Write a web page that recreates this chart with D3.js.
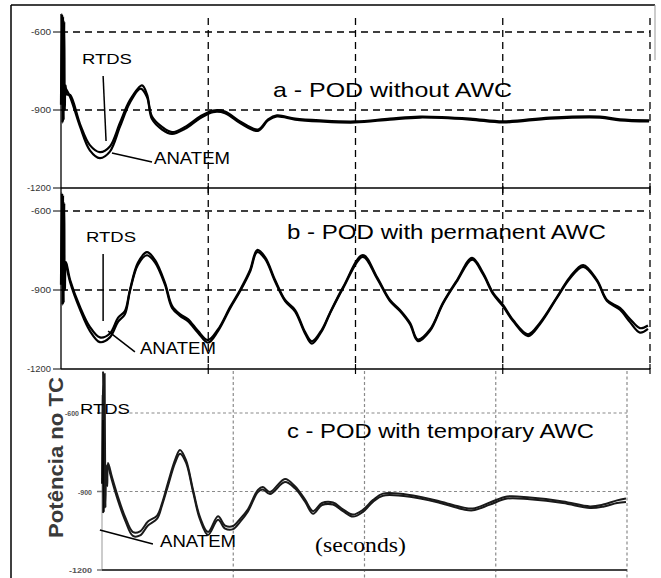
<!DOCTYPE html>
<html><head><meta charset="utf-8">
<script src="https://cdn.jsdelivr.net/npm/d3@7"></script>
<style>html,body{margin:0;padding:0;background:#fff;}svg{display:block;}</style>
</head><body>
<script>
// ---------- DATA ----------
const timeDomain = [0, 20];
const gridTimes = [5, 10, 15, 20];
const yTicks = [-600, -900, -1200];
const yTickLabels = ["-600", "-900", "-1200"];
const gridValues = [-600, -900];
const titles = ["a - POD without  AWC", "b - POD with permanent AWC", "c - POD with temporary AWC"];
const seriesNames = ["RTDS", "ANATEM"];
const yAxisTitle = "Potência no TC";
const xAxisTitle = "(seconds)";

// panel a (t in s, value)
const rtdsA = [[0,-880],[0.03,-530],[0.05,-950],[0.07,-540],[0.09,-940],[0.11,-560],[0.13,-900],[0.15,-805],[0.2,-840],[0.31,-842],[0.65,-955],[0.98,-1035],[1.32,-1062],[1.66,-1040],[2.0,-950],[2.34,-862],[2.75,-805],[2.92,-840],[3.09,-925],[3.43,-965],[3.77,-985],[4.21,-965],[4.72,-925],[5.16,-902],[5.57,-906],[6.08,-944],[6.69,-975],[7.03,-936],[7.33,-921],[7.95,-933],[8.79,-940],[9.98,-944],[11.17,-933],[12.19,-925],[13.89,-933],[15.01,-944],[16.6,-929],[18.3,-925],[18.98,-936],[19.97,-940]];
const anatemA = [[0.15,-815],[0.31,-850],[0.65,-965],[0.98,-1055],[1.32,-1085],[1.66,-1060],[2.0,-965],[2.34,-872],[2.7,-818],[2.92,-850],[3.09,-935],[3.43,-975],[3.77,-992],[4.21,-972],[4.72,-932],[5.16,-908],[5.57,-912],[6.08,-950],[6.69,-980],[7.03,-940],[7.33,-925],[7.95,-937],[8.79,-944],[9.98,-948],[11.17,-937],[12.19,-929],[13.89,-937],[15.01,-948],[16.6,-933],[18.3,-929],[18.98,-940],[19.97,-944]];

// panel b
const rtdsB = [[0,-880],[0.03,-532],[0.05,-957],[0.07,-540],[0.09,-950],[0.11,-570],[0.13,-900],[0.17,-794],[0.31,-862],[0.65,-965],[0.98,-1040],[1.32,-1080],[1.66,-1065],[1.94,-1005],[2.17,-980],[2.34,-900],[2.61,-797],[2.92,-756],[3.19,-786],[3.53,-873],[3.77,-960],[4.04,-992],[4.31,-1010],[4.65,-1055],[4.99,-1090],[5.33,-1050],[5.74,-965],[6.08,-900],[6.42,-824],[6.66,-748],[6.93,-775],[7.27,-862],[7.61,-938],[7.95,-976],[8.29,-1060],[8.52,-1095],[8.86,-1050],[9.13,-987],[9.58,-889],[10.25,-767],[10.73,-851],[11.17,-938],[11.51,-976],[11.85,-1025],[12.12,-1088],[12.53,-1050],[12.97,-949],[13.45,-862],[13.96,-778],[14.33,-835],[14.67,-911],[15.01,-957],[15.35,-1014],[15.86,-1068],[16.26,-1025],[16.84,-927],[17.28,-851],[17.73,-805],[18.2,-862],[18.54,-938],[18.98,-968],[19.32,-1010],[19.66,-1045],[19.93,-1035]];
const anatemB = [[0.17,-800],[0.31,-870],[0.65,-975],[0.98,-1055],[1.32,-1098],[1.66,-1080],[1.94,-1020],[2.17,-992],[2.34,-905],[2.61,-805],[2.92,-768],[3.19,-795],[3.53,-880],[3.77,-968],[4.04,-998],[4.31,-1018],[4.65,-1062],[4.99,-1100],[5.33,-1056],[5.74,-970],[6.08,-905],[6.42,-830],[6.66,-756],[6.93,-782],[7.27,-868],[7.61,-942],[7.95,-982],[8.29,-1066],[8.52,-1104],[8.86,-1055],[9.13,-990],[9.58,-893],[10.25,-774],[10.73,-856],[11.17,-942],[11.51,-980],[11.85,-1030],[12.12,-1094],[12.53,-1055],[12.97,-952],[13.45,-866],[13.96,-785],[14.33,-840],[14.67,-915],[15.01,-962],[15.35,-1018],[15.86,-1075],[16.26,-1030],[16.84,-930],[17.28,-856],[17.73,-812],[18.2,-866],[18.54,-942],[18.98,-975],[19.32,-1022],[19.66,-1062],[19.93,-1048]];

// panel c
const rtdsC = [[0,-870],[0.04,-440],[0.07,-980],[0.1,-450],[0.13,-960],[0.16,-800],[0.2,-880],[0.23,-791],[0.38,-845],[0.61,-921],[0.88,-997],[1.18,-1055],[1.45,-1052],[1.75,-1015],[2.1,-992],[2.29,-944],[2.51,-868],[2.78,-780],[2.97,-741],[3.2,-780],[3.47,-894],[3.73,-997],[4.04,-1055],[4.42,-995],[4.69,-1030],[4.99,-1032],[5.26,-1005],[5.56,-968],[5.94,-894],[6.13,-883],[6.4,-902],[6.97,-852],[7.35,-880],[7.73,-930],[8.04,-975],[8.38,-944],[8.8,-942],[9.18,-968],[9.56,-988],[9.94,-970],[10.32,-933],[10.7,-908],[11.85,-915],[12.88,-938],[13.75,-961],[14.13,-965],[14.78,-942],[15.43,-919],[16.3,-923],[17.56,-938],[18.59,-957],[19.09,-950],[19.62,-934],[19.96,-927]];
const anatemC = [[0.23,-800],[0.38,-858],[0.61,-935],[0.88,-1010],[1.18,-1070],[1.45,-1068],[1.75,-1030],[2.1,-1004],[2.29,-952],[2.51,-880],[2.78,-792],[2.97,-756],[3.2,-790],[3.47,-902],[3.73,-1006],[4.04,-1066],[4.42,-1008],[4.69,-1042],[4.99,-1044],[5.26,-1016],[5.56,-976],[5.94,-902],[6.13,-892],[6.4,-910],[6.97,-864],[7.35,-888],[7.73,-938],[8.04,-985],[8.38,-952],[8.8,-950],[9.18,-975],[9.56,-996],[9.94,-978],[10.32,-940],[10.7,-916],[11.85,-922],[12.88,-944],[13.75,-968],[14.13,-972],[14.78,-950],[15.43,-927],[16.3,-930],[17.56,-944],[18.59,-963],[19.09,-958],[19.62,-944],[19.96,-940]];

// ---------- LAYOUT ----------
const W = 661, H = 578;
const FONT = "Arial, 'Liberation Sans', sans-serif";
const svg = d3.select("body").append("svg").attr("width", W).attr("height", H);
svg.append("rect").attr("width", W).attr("height", H).attr("fill", "#fff");

const panels = [
  { id: "a", rtds: rtdsA, anatem: anatemA, x0: 61, x1: 650, yTop: 32, yBot: 188, clipTop: 6, gridTop: 18,
    title: titles[0], titleX: 273, titleY: 97, titleLen: 239,
    rtdsLbl: [0.71, -723], rtdsLine: [[1.43, -769], [1.53, -1019]], anLbl: [3.16, -1108], anLine: [[3.09, -1100], [1.73, -1065]], style: "ab" },
  { id: "b", rtds: rtdsB, anatem: anatemB, x0: 61, x1: 650, yTop: 211, yBot: 369, clipTop: 189, gridTop: 188,
    title: titles[1], titleX: 287, titleY: 239, titleLen: 319,
    rtdsLbl: [0.85, -718], rtdsLine: [[1.43, -763], [1.43, -1018]], anLbl: [2.68, -1143], anLine: [[2.51, -1135], [1.6, -1056]], style: "ab" },
  { id: "c", rtds: rtdsC, anatem: anatemC, x0: 102, x1: 627, yTop: 413, yBot: 570, clipTop: 371, gridTop: 371,
    title: titles[2], titleX: 287, titleY: 438, titleLen: 307,
    rtdsLbl: [-0.84, -604], rtdsLine: [[0.04, -627], [0.04, -982]], anLbl: [2.21, -1112], anLine: [[-0.08, -1047], [1.94, -1101]], style: "c" }
];

// outer frame
svg.append("line").attr("x1", 11).attr("y1", 5).attr("x2", 11).attr("y2", H).attr("stroke", "#000").attr("stroke-width", 1.5);
svg.append("line").attr("x1", 11).attr("y1", 5).attr("x2", 655).attr("y2", 5).attr("stroke", "#000").attr("stroke-width", 1.5);
svg.append("line").attr("x1", 655).attr("y1", 5).attr("x2", 655).attr("y2", 60).attr("stroke", "#999").attr("stroke-width", 1);

panels.forEach(p => {
  const x = d3.scaleLinear().domain(timeDomain).range([p.x0, p.x1]);
  const y = d3.scaleLinear().domain([-1200, -600]).range([p.yBot, p.yTop]);
  const g = svg.append("g");
  const isC = p.style === "c";

  const clipId = "clip" + p.id;
  svg.append("clipPath").attr("id", clipId).append("rect")
    .attr("x", p.x0 - 2).attr("y", p.clipTop).attr("width", p.x1 - p.x0 + 4).attr("height", p.yBot - p.clipTop);

  const gridStroke = isC ? "#8a8a8a" : "#000";
  const gridDash = isC ? "3,2.5" : "7,5";
  const gridW = isC ? 1.2 : 1.3;
  g.selectAll(".hg").data(gridValues).join("line")
    .attr("x1", p.x0).attr("x2", p.x1).attr("y1", d => y(d)).attr("y2", d => y(d))
    .attr("stroke", gridStroke).attr("stroke-width", gridW).attr("stroke-dasharray", gridDash);
  g.selectAll(".vg").data(gridTimes).join("line")
    .attr("x1", d => x(d)).attr("x2", d => x(d))
    .attr("y1", p.gridTop).attr("y2", isC ? H : p.yBot)
    .attr("stroke", gridStroke).attr("stroke-width", gridW).attr("stroke-dasharray", gridDash);

  if (!isC) {
    g.append("line").attr("x1", p.x0).attr("x2", p.x0).attr("y1", p.id === "a" ? 14 : 188).attr("y2", p.yBot)
      .attr("stroke", "#000").attr("stroke-width", 1.3);
    g.append("line").attr("x1", p.x0).attr("x2", p.x1).attr("y1", p.yBot).attr("y2", p.yBot)
      .attr("stroke", "#000").attr("stroke-width", 1.5);
    g.selectAll(".bt").data(gridTimes).join("line")
      .attr("x1", d => x(d)).attr("x2", d => x(d)).attr("y1", p.yBot - 5).attr("y2", p.yBot + 5)
      .attr("stroke", "#000").attr("stroke-width", 1.2);
    g.selectAll(".lt").data(yTicks).join("line")
      .attr("x1", p.x0 - 8).attr("x2", p.x0).attr("y1", d => y(d)).attr("y2", d => y(d))
      .attr("stroke", "#000").attr("stroke-width", 1);
    g.selectAll(".tl").data(yTicks).join("text")
      .attr("x", p.x0 - 10).attr("y", d => y(d) + 3)
      .attr("text-anchor", "end").attr("font-family", FONT).attr("font-size", 9)
      .attr("fill", "#333")
      .attr("textLength", (d, i) => i === 2 ? 24 : 20).attr("lengthAdjust", "spacingAndGlyphs")
      .text((d, i) => yTickLabels[i]);
  } else {
    g.append("line").attr("x1", p.x0).attr("x2", p.x0).attr("y1", 395).attr("y2", p.yBot)
      .attr("stroke", "#bbb").attr("stroke-width", 1.5);
    g.append("line").attr("x1", p.x0).attr("x2", p.x1).attr("y1", p.yBot).attr("y2", p.yBot)
      .attr("stroke", "#444").attr("stroke-width", 2);
    g.selectAll(".lt").data(yTicks).join("line")
      .attr("x1", p.x0 - 5).attr("x2", p.x0).attr("y1", d => y(d)).attr("y2", d => y(d))
      .attr("stroke", "#777").attr("stroke-width", 1.5);
    g.selectAll(".tl").data(yTicks).join("text")
      .attr("x", (d, i) => i === 0 ? 79 : p.x0 - 10).attr("y", d => y(d) + 3)
      .attr("text-anchor", "end").attr("font-family", FONT).attr("font-size", 8).attr("font-weight", "bold")
      .attr("fill", "#555")
      .attr("textLength", (d, i) => i === 2 ? 23 : 14).attr("lengthAdjust", "spacingAndGlyphs")
      .text((d, i) => yTickLabels[i]);
  }

  const line = d3.line().x(d => x(d[0])).y(d => y(d[1])).curve(d3.curveCatmullRom.alpha(0.5));
  const cg = g.append("g").attr("clip-path", `url(#${clipId})`);
  const lineColor = isC ? "#1a1a1a" : "#000";
  cg.append("path").datum(p.anatem).attr("d", line).attr("fill", "none")
    .attr("stroke", lineColor).attr("stroke-width", isC ? 2 : 2.2).attr("stroke-linejoin", "round");
  cg.append("path").datum(p.rtds).attr("d", line).attr("fill", "none")
    .attr("stroke", lineColor).attr("stroke-width", isC ? 2 : 2.2).attr("stroke-linejoin", "round");

  g.append("line").attr("x1", x(p.rtdsLine[0][0])).attr("y1", y(p.rtdsLine[0][1]))
    .attr("x2", x(p.rtdsLine[1][0])).attr("y2", y(p.rtdsLine[1][1])).attr("stroke", "#000").attr("stroke-width", 1.5);
  g.append("line").attr("x1", x(p.anLine[0][0])).attr("y1", y(p.anLine[0][1]))
    .attr("x2", x(p.anLine[1][0])).attr("y2", y(p.anLine[1][1])).attr("stroke", "#000").attr("stroke-width", 1.5);
  g.append("text").attr("x", x(p.rtdsLbl[0])).attr("y", y(p.rtdsLbl[1]))
    .attr("font-family", FONT).attr("font-size", 15).attr("fill", "#000")
    .attr("textLength", 50).attr("lengthAdjust", "spacingAndGlyphs").text(seriesNames[0]);
  g.append("text").attr("x", x(p.anLbl[0])).attr("y", y(p.anLbl[1]))
    .attr("font-family", FONT).attr("font-size", 16).attr("fill", "#000")
    .attr("textLength", 76).attr("lengthAdjust", "spacingAndGlyphs").text(seriesNames[1]);

  g.append("text").attr("x", p.titleX).attr("y", p.titleY)
    .attr("font-family", FONT).attr("font-size", 21).attr("fill", "#000")
    .attr("textLength", p.titleLen).attr("lengthAdjust", "spacingAndGlyphs").text(p.title);
});

svg.append("text").attr("transform", "translate(63,538) rotate(-90)")
  .attr("font-family", FONT).attr("font-size", 20).attr("font-weight", "bold").attr("fill", "#3a3a3a")
  .attr("textLength", 161).attr("lengthAdjust", "spacingAndGlyphs").text(yAxisTitle);

svg.append("text").attr("x", 315).attr("y", 552)
  .attr("font-family", "'Liberation Serif', 'DejaVu Serif', serif").attr("font-size", 22).attr("fill", "#000")
  .attr("textLength", 91).attr("lengthAdjust", "spacingAndGlyphs").text(xAxisTitle);
</script>
</body></html>
